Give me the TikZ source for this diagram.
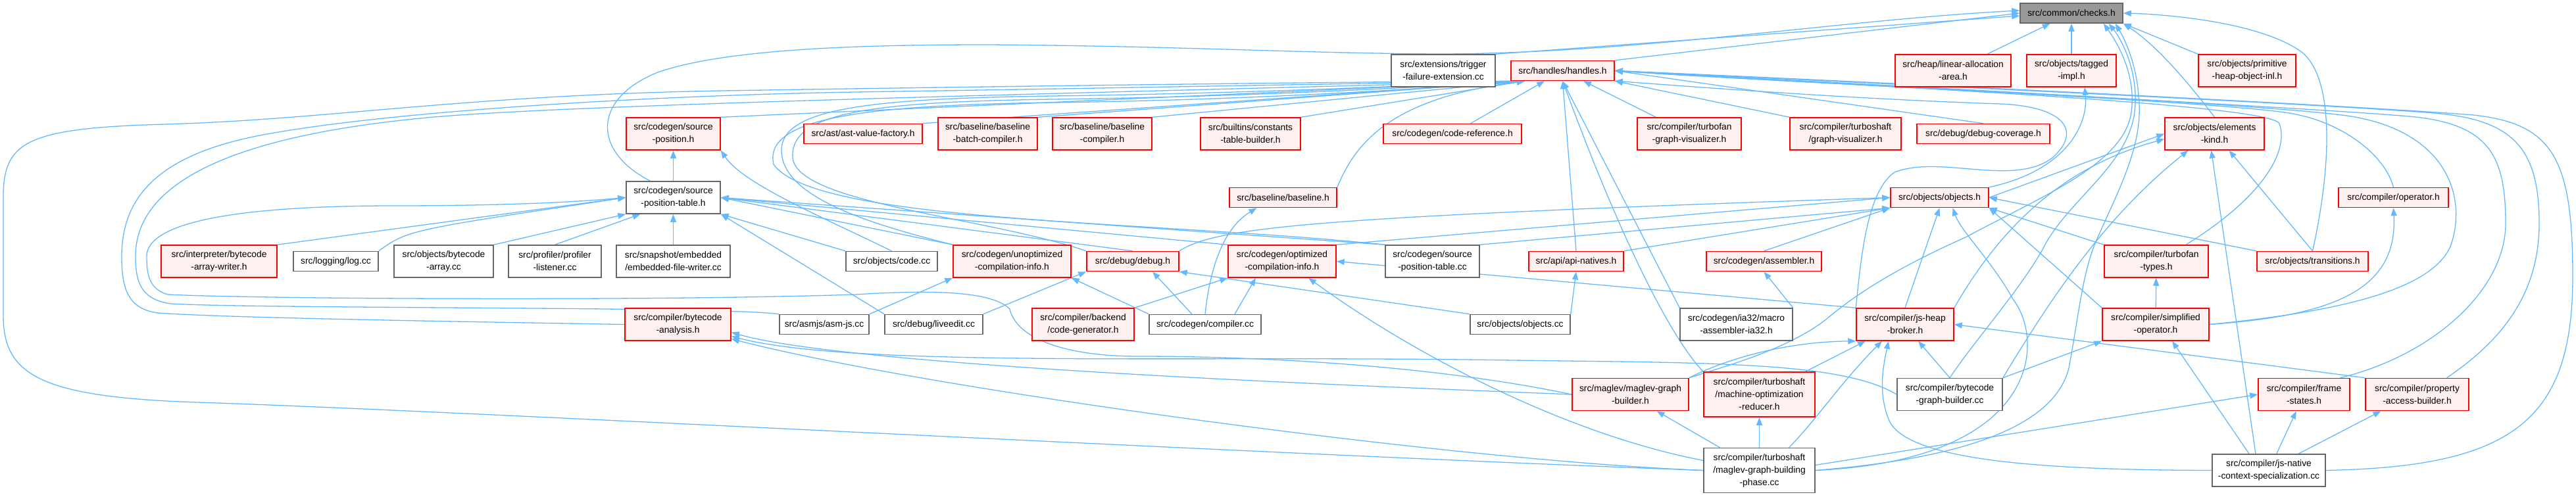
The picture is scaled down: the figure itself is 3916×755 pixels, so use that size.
\documentclass[tikz,border=0pt]{standalone}
\usepackage{fontspec}
\setmainfont{Liberation Sans}
\usetikzlibrary{arrows.meta}
\definecolor{depblue}{HTML}{63B8FF}
\definecolor{hdrred}{HTML}{FF0000}
\definecolor{hdrpink}{HTML}{FFF0F0}
\definecolor{srcgray}{HTML}{666666}
\definecolor{rootgray}{HTML}{999999}
\pgfdeclarelayer{edges}
\pgfsetlayers{edges,main}
\tikzset{
  filebox/.style={rectangle, align=center, inner sep=0pt, line width=1.5pt,
    font=\fontsize{13.8}{19}\selectfont},
  hdr/.style={filebox, draw=hdrred, fill=hdrpink},
  srcfile/.style={filebox, draw=srcgray, fill=white},
  rootfile/.style={filebox, draw=srcgray, fill=rootgray},
  one/.style={minimum height=30pt},
  two/.style={minimum height=49pt},
  three/.style={minimum height=68pt},
  w/.style={minimum width=#1},
  dep/.style={draw=depblue, line width=1.3pt, -{Triangle[length=12pt,width=9pt]}},
}
\begin{document}
\begin{tikzpicture}[x=1pt, y=-1pt]
\useasboundingbox (0,0) rectangle (3916,755);

% files
\node[rootfile, one, w=156pt] (checks) at (3149,20) {src/common/checks.h};
\node[srcfile, two, w=158pt] (trigger) at (2194,107.5) {src/extensions/trigger\\-failure-extension.cc};
\node[hdr, one, w=157pt] (handles) at (2375.5,107.5) {src/handles/handles.h};
\node[hdr, two, w=176pt] (linalloc) at (2969,107.5) {src/heap/linear-allocation\\-area.h};
\node[hdr, two, w=136pt] (tagged) at (3149,107.5) {src/objects/tagged\\-impl.h};
\node[hdr, two, w=148pt] (primheap) at (3416,107.5) {src/objects/primitive\\-heap-object-inl.h};

\node[hdr, two, w=143pt] (spos) at (1023.5,203.5) {src/codegen/source\\-position.h};
\node[hdr, one, w=180pt] (ast) at (1312,203.5) {src/ast/ast-value-factory.h};
\node[hdr, two, w=151pt] (bbatch) at (1501.5,203.5) {src/baseline/baseline\\-batch-compiler.h};
\node[hdr, two, w=151pt] (bcomp) at (1675.5,203.5) {src/baseline/baseline\\-compiler.h};
\node[hdr, two, w=152pt] (builtins) at (1901,203.5) {src/builtins/constants\\-table-builder.h};
\node[hdr, one, w=210pt] (coderef) at (2208,203.5) {src/codegen/code-reference.h};
\node[hdr, two, w=158pt] (tfgv) at (2568,203.5) {src/compiler/turbofan\\-graph-visualizer.h};
\node[hdr, two, w=169pt] (tsgv) at (2805.5,203.5) {src/compiler/turboshaft\\/graph-visualizer.h};
\node[hdr, one, w=202pt] (dcov) at (3015,203.5) {src/debug/debug-coverage.h};
\node[hdr, two, w=151pt] (elements) at (3366.5,203.5) {src/objects/elements\\-kind.h};

\node[srcfile, two, w=143pt] (spth) at (1023.5,300.5) {src/codegen/source\\-position-table.h};
\node[hdr, one, w=163pt] (baseline) at (1950.5,300.5) {src/baseline/baseline.h};
\node[hdr, one, w=149pt] (objh) at (2948.5,300.5) {src/objects/objects.h};
\node[hdr, one, w=167pt] (operator) at (3638.5,300.5) {src/compiler/operator.h};

\node[hdr, two, w=176pt] (interp) at (333,397.5) {src/interpreter/bytecode\\-array-writer.h};
\node[srcfile, one, w=129pt] (logcc) at (510.5,397.5) {src/logging/log.cc};
\node[srcfile, two, w=151pt] (bacc) at (674.5,397.5) {src/objects/bytecode\\-array.cc};
\node[srcfile, two, w=141pt] (profcc) at (843.5,397.5) {src/profiler/profiler\\-listener.cc};
\node[srcfile, two, w=173pt] (embcc) at (1023.5,397.5) {src/snapshot/embedded\\/embedded-file-writer.cc};
\node[srcfile, one, w=139pt] (codecc) at (1355.5,397.5) {src/objects/code.cc};
\node[hdr, two, w=179pt] (unopt) at (1538.5,397.5) {src/codegen/unoptimized\\-compilation-info.h};
\node[hdr, one, w=140pt] (debugh) at (1722,397.5) {src/debug/debug.h};
\node[hdr, two, w=164pt] (optinfo) at (1949,397.5) {src/codegen/optimized\\-compilation-info.h};
\node[srcfile, two, w=143pt] (spcc) at (2177.5,397.5) {src/codegen/source\\-position-table.cc};
\node[hdr, one, w=144pt] (apinat) at (2396,397.5) {src/api/api-natives.h};
\node[hdr, one, w=175pt] (asmh) at (2681.5,397.5) {src/codegen/assembler.h};
\node[hdr, two, w=158pt] (tftypes) at (3278,397.5) {src/compiler/turbofan\\-types.h};
\node[hdr, one, w=169pt] (transitions) at (3515.5,397.5) {src/objects/transitions.h};

\node[hdr, two, w=161pt] (bca) at (1030.5,493.5) {src/compiler/bytecode\\-analysis.h};
\node[srcfile, one, w=136pt] (asmjs) at (1253,493.5) {src/asmjs/asm-js.cc};
\node[srcfile, one, w=149pt] (liveedit) at (1419.5,493.5) {src/debug/liveedit.cc};
\node[hdr, two, w=155pt] (codegen) at (1646.5,493.5) {src/compiler/backend\\/code-generator.h};
\node[srcfile, one, w=170pt] (compcc) at (1832,493.5) {src/codegen/compiler.cc};
\node[srcfile, one, w=152pt] (objcc) at (2311,493.5) {src/objects/objects.cc};
\node[srcfile, two, w=171pt] (ia32) at (2639.5,493.5) {src/codegen/ia32/macro\\-assembler-ia32.h};
\node[hdr, two, w=148pt] (jhb) at (2896,493.5) {src/compiler/js-heap\\-broker.h};
\node[hdr, two, w=162pt] (simp) at (3277,493.5) {src/compiler/simplified\\-operator.h};

\node[hdr, two, w=177pt] (mgb) at (2478.5,600) {src/maglev/maglev-graph\\-builder.h};
\node[hdr, three, w=169pt] (mor) at (2674.5,600) {src/compiler/turboshaft\\/machine-optimization\\-reducer.h};
\node[srcfile, two, w=160pt] (bgb) at (2964,600) {src/compiler/bytecode\\-graph-builder.cc};
\node[hdr, two, w=139pt] (fstates) at (3502.5,600) {src/compiler/frame\\-states.h};
\node[hdr, two, w=157pt] (pab) at (3674.5,600) {src/compiler/property\\-access-builder.h};

\node[srcfile, three, w=169pt] (mgbp) at (2674.5,715.5) {src/compiler/turboshaft\\/maglev-graph-building\\-phase.cc};
\node[srcfile, two, w=172pt] (jncs) at (3449,715.5) {src/compiler/js-native\\-context-specialization.cc};

\begin{pgfonlayer}{edges}
% checks.h
\draw[dep] (trigger.north east) -- ([yshift=-4pt]checks.west);
\draw[dep] (handles.north east) -- (checks.west);
\draw[dep] ([xshift=-35pt]spth.north) .. controls (900,230) and (900,150) .. (1000,110) .. controls (1100,75) and (1300,68) .. (1500,68) .. controls (1800,70) and (2000,82) .. (2200,82) .. controls (2500,80) and (2800,30) .. ([yshift=4pt]checks.west);
\draw[dep] (linalloc) -- (checks);
\draw[dep] (tagged) -- (checks);
\draw[dep] (primheap.north west) -- (checks.south east);
\draw[dep] (elements.north) .. controls (3330,130) and (3280,70) .. (checks.south east);
\draw[dep] (transitions.north) .. controls (3545,250) and (3548,120) .. (3500,80) .. controls (3440,35) and (3300,22) .. (checks.east);
\draw[dep] (mgb.north east) .. controls (2630,555) and (2720,530) .. (2777,485) .. controls (2830,440) and (2900,400) .. (2990,360) .. controls (3100,300) and (3230,250) .. (3240,170) .. controls (3248,110) and (3215,60) .. ([xshift=-30pt]checks.south east);
\draw[dep] (bgb.north) .. controls (3000,520) and (3080,430) .. (3110,370) .. controls (3150,300) and (3235,250) .. (3245,170) .. controls (3252,110) and (3225,60) .. ([xshift=-22pt]checks.south east);
\draw[dep] (mgbp.east) .. controls (2950,700) and (3120,660) .. (3145,560) .. controls (3160,480) and (3165,420) .. (3185,370) .. controls (3215,300) and (3255,230) .. (3252,160) .. controls (3250,100) and (3230,60) .. ([xshift=-12pt]checks.south east);

% handles.h
\draw[dep] (spos.north east) -- ([xshift=22pt]handles.south west);
\draw[dep] (ast.north east) -- ([xshift=22pt]handles.south west);
\draw[dep] (bbatch.north east) -- ([xshift=22pt]handles.south west);
\draw[dep] (bcomp.north east) -- ([xshift=22pt]handles.south west);
\draw[dep] (builtins.north east) -- ([xshift=22pt]handles.south west);
\draw[dep] (coderef) -- (handles);
\draw[dep] (tfgv) -- (handles);
\draw[dep] (tsgv.north west) -- (handles.south east);
\draw[dep] (dcov.north) -- (handles.east);
\draw[dep] (baseline.north east) .. controls (2060,220) and (2110,150) .. ([xshift=22pt]handles.south west);
\draw[dep] (apinat.north) -- (handles.south);
\draw[dep] (ia32.north west) -- (handles.south);
\draw[dep] (mor.north west) .. controls (2545,520) and (2470,380) .. (handles.south);
\draw[dep] (jhb.north west) .. controls (2830,380) and (2840,290) .. (2880,262) .. controls (2950,235) and (3060,285) .. (3120,240) .. controls (3165,200) and (3140,162) .. (3040,158) .. controls (2800,150) and (2550,130) .. (handles.south east);
\draw[dep] ([xshift=45pt]tftypes.north) .. controls (3440,300) and (3480,230) .. (3465,188) .. controls (3450,155) and (2700,125) .. (handles.east);
\draw[dep] (operator.north) .. controls (3625,235) and (3560,185) .. (3480,172) .. controls (3350,152) and (2700,125) .. (handles.east);
\draw[dep] (simp.east) .. controls (3600,470) and (3700,430) .. (3725,375) .. controls (3752,300) and (3720,195) .. (3560,175) .. controls (3400,155) and (2700,122) .. (handles.east);
\draw[dep] ([xshift=55pt]fstates.north) .. controls (3700,540) and (3809,440) .. (3809,340) .. controls (3809,230) and (3780,185) .. (3650,176) .. controls (3450,160) and (2700,122) .. (handles.east);
\draw[dep] ([xshift=45pt]pab.north) .. controls (3800,520) and (3860,450) .. (3860,340) .. controls (3860,225) and (3820,182) .. (3700,172) .. controls (3500,156) and (2700,120) .. (handles.east);
\draw[dep] (jncs.east) .. controls (3820,710) and (3911,640) .. (3911,420) .. controls (3911,240) and (3880,188) .. (3760,175) .. controls (3550,158) and (2700,118) .. (handles.east);
\draw[dep] (unopt.north west) .. controls (1320,340) and (1190,300) .. (1188,230) .. controls (1186,165) and (1320,150) .. (1600,146) .. controls (1900,142) and (2150,130) .. ([xshift=22pt]handles.south west);
\draw[dep] (debugh.north west) .. controls (1500,330) and (1212,310) .. (1205,240) .. controls (1200,170) and (1330,155) .. (1600,151) .. controls (1900,147) and (2150,133) .. ([xshift=22pt]handles.south west);
\draw[dep] (spcc.north west) .. controls (1750,335) and (1240,340) .. (1176,250) .. controls (1160,180) and (1310,160) .. (1600,156) .. controls (1900,152) and (2150,136) .. ([xshift=22pt]handles.south west);
\draw[dep] (mgbp.west) .. controls (1900,690) and (700,625) .. (300,612) .. controls (60,604) and (5,570) .. (5,480) -- (5,300) .. controls (5,215) and (40,195) .. (250,189) .. controls (500,182) and (700,145) .. (1100,138) .. controls (1600,130) and (2100,124) .. ([xshift=22pt]handles.south west);
\draw[dep] (bca.west) .. controls (750,490) and (350,484) .. (240,476) .. controls (195,470) and (185,440) .. (185,390) .. controls (185,300) and (240,235) .. (400,205) .. controls (600,168) and (1000,145) .. (1300,140) .. controls (1700,134) and (2100,126) .. ([xshift=22pt]handles.south west);
\draw[dep] (asmjs.north west) .. controls (1100,466) and (400,470) .. (260,462) .. controls (215,456) and (206,430) .. (206,390) .. controls (206,300) and (300,210) .. (660,178) .. controls (900,157) and (1800,138) .. ([xshift=22pt]handles.south west);

% source-position(-table).h
\draw[dep] (mgb.west) .. controls (2200,560) and (1950,542) .. (1730,542) .. controls (1620,542) and (1545,515) .. (1535,470) .. controls (1505,440) and (1400,442) .. (1300,448) .. controls (1000,458) and (400,455) .. (255,448) .. controls (228,440) and (223,420) .. (223,390) .. controls (223,340) and (350,313) .. (600,313) .. controls (800,313) and (900,305) .. (spth.west);
\draw[dep] (spth) -- (spos);
\draw[dep] (codecc.north) .. controls (1250,330) and (1130,280) .. (spos.south east);
\draw[dep] (interp.north east) -- (spth.west);
\draw[dep] (logcc.north east) .. controls (620,350) .. (spth.west);
\draw[dep] (bacc.north east) -- (spth.south west);
\draw[dep] (profcc.north) -- ([xshift=-50pt]spth.south);
\draw[dep] (embcc) -- (spth);
\draw[dep] (codecc.north west) -- (spth.south east);
\draw[dep] (liveedit.north west) -- (spth.south east);
\draw[dep] (unopt.north west) -- (spth.east);
\draw[dep] (debugh.north) -- (spth.east);
\draw[dep] (optinfo.north west) -- (spth.east);
\draw[dep] (spcc.north west) -- (spth.east);

% baseline.h, objects.h, tagged, elements-kind
\draw[dep] (compcc.north) .. controls (1838,420) and (1855,350) .. ([xshift=-40pt]baseline.south);
\draw[dep] (transitions.north west) -- (objh.east);
\draw[dep] (debugh.north east) .. controls (1850,345) and (2000,330) .. (objh.west);
\draw[dep] (optinfo.north east) -- (objh.west);
\draw[dep] (spcc.north east) -- (objh.south west);
\draw[dep] (apinat.north east) -- (objh.south west);
\draw[dep] (asmh.north) -- (objh.south west);
\draw[dep] (jhb.north) -- (objh.south);
\draw[dep] (simp.north west) -- (objh.south east);
\draw[dep] (tftypes.north west) -- (objh.south east);
\draw[dep] (mgbp.east) .. controls (3100,700) and (3110,520) .. (3060,455) .. controls (3030,400) and (2980,350) .. ([xshift=20pt]objh.south);
\draw[dep] (objh.north east) .. controls (3140,260) and (3175,190) .. ([xshift=20pt]tagged.south);
\draw[dep] (objh.east) -- (elements.west);
\draw[dep] (jhb.north east) .. controls (3050,330) and (3150,250) .. ([yshift=-8pt]elements.west);
\draw[dep] (bgb.north east) .. controls (3120,450) and (3200,330) .. ([xshift=-40pt]elements.south);
\draw[dep] ([xshift=-20pt]jncs.north) -- ([xshift=-5pt]elements.south);
\draw[dep] (transitions.north) -- ([xshift=22pt]elements.south);

% lower headers
\draw[dep] (asmjs.north east) -- (unopt.south west);
\draw[dep] (compcc.north west) -- (unopt.south east);
\draw[dep] (liveedit.north east) -- (debugh.south west);
\draw[dep] ([xshift=-20pt]compcc.north) -- ([xshift=30pt]debugh.south);
\draw[dep] (objcc.north west) -- (debugh.south east);
\draw[dep] (codegen.north east) -- (optinfo.south west);
\draw[dep] ([xshift=45pt]compcc.north) -- ([xshift=-40pt]optinfo.south);
\draw[dep] ([yshift=15pt]mgbp.west) .. controls (2380,660) and (2150,540) .. ([xshift=40pt]optinfo.south);
\draw[dep] (jhb.north west) -- (optinfo.east);
\draw[dep] (objcc.north east) -- (apinat.south);
\draw[dep] (ia32.north east) -- (asmh.south);
\draw[dep] (simp) -- (tftypes);
\draw[dep] (simp.east) .. controls (3550,480) and (3645,440) .. (operator.south);
\draw[dep] (mgb.west) .. controls (2150,590) and (1300,560) .. ([yshift=-12pt]bca.east);
\draw[dep] (bgb.west) .. controls (2800,550) and (2600,552) .. (2300,548) .. controls (1800,540) and (1300,560) .. ([yshift=-18pt]bca.east);
\draw[dep] (mgbp.west) .. controls (2200,700) and (1400,590) .. ([yshift=-22pt]bca.east);
\draw[dep] ([xshift=70pt]mor.north) -- ([xshift=-60pt]jhb.south);
\draw[dep] ([xshift=45pt]mgbp.north) .. controls (2760,640) and (2800,580) .. ([xshift=-35pt]jhb.south);
\draw[dep] (mgb.north east) .. controls (2620,548) and (2710,520) .. (jhb.south west);
\draw[dep] (bgb.north) -- ([xshift=20pt]jhb.south);
\draw[dep] (pab.north west) -- (jhb.east);
\draw[dep] (jncs.west) .. controls (3100,715) and (2900,700) .. (2872,640) .. controls (2855,600) and (2862,560) .. ([xshift=-25pt]jhb.south);
\draw[dep] (bgb.north east) -- (simp.south west);
\draw[dep] ([xshift=-30pt]jncs.north) -- ([xshift=25pt]simp.south);
\draw[dep] ([xshift=-60pt]mgbp.north) -- ([xshift=40pt]mgb.south);
\draw[dep] (mgbp) -- (mor);
\draw[dep] ([yshift=8pt]mgbp.east) -- (fstates.west);
\draw[dep] (jncs) -- (fstates);
\draw[dep] ([xshift=45pt]jncs.north) -- ([xshift=-55pt]pab.south);
\end{pgfonlayer}
\end{tikzpicture}
\end{document}
